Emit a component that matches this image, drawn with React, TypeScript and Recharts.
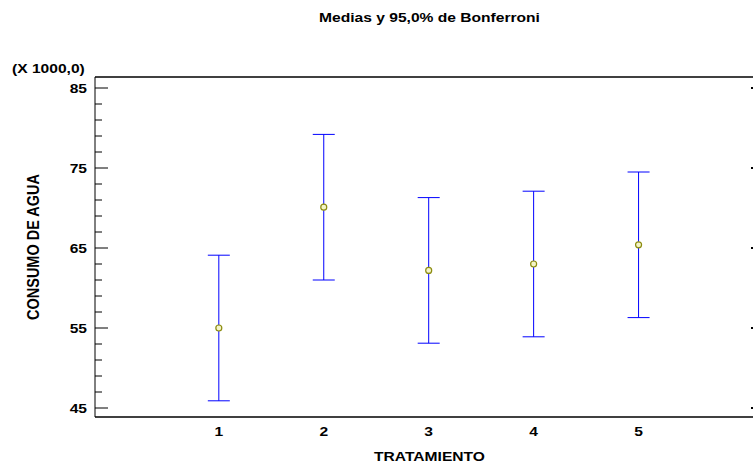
import { ScatterChart, Scatter, XAxis, YAxis, ErrorBar, Label, ReferenceLine } from "recharts";

// medias por tratamiento y semiamplitud del intervalo de Bonferroni (x 1000)
const tratamientos = [1, 2, 3, 4, 5];
const medias = [55.0, 70.1, 62.2, 63.0, 65.4];
const intervalo = [9.1, 9.1, 9.1, 9.1, 9.1];
const marcasY = [45, 47, 49, 51, 53, 55, 57, 59, 61, 63, 65, 67, 69, 71, 73, 75, 77, 79, 81, 83, 85];
const etiquetasY = [45, 55, 65, 75, 85];

const data = tratamientos.map((t, i) => ({ x: t, y: medias[i], err: intervalo[i] }));

const FONT = "'Liberation Sans', Arial, sans-serif";
const yDomain = [43.875, 86.375];
const xDomain = [-0.18, 6.1];

// texto algo ensanchado, como en la salida original
function Txt(props: any) {
  const { x, y, anchor = "middle", size = 13, children, rotate } = props;
  const tf = rotate
    ? `translate(${x},${y}) rotate(-90) scale(1,1.2)`
    : `translate(${x},${y}) scale(1.2,1)`;
  return (
    <text
      transform={tf}
      textAnchor={anchor}
      fontFamily={FONT}
      fontWeight="bold"
      fontSize={size}
      fill="#000"
    >
      {children}
    </text>
  );
}

function YTick(props: any) {
  const { x, y, payload } = props;
  const v = payload.value;
  const mayor = etiquetasY.includes(v);
  return (
    <g>
      <line x1={x + 8} y1={y} x2={x + 8 + (mayor ? 13 : 7)} y2={y} stroke="#000" />
      {mayor && (
        <Txt x={x} y={y + 5} anchor="end">
          {v}
        </Txt>
      )}
    </g>
  );
}

function YTickDer(props: any) {
  const { x, y } = props;
  return <line x1={x - 3} y1={y} x2={x} y2={y} stroke="#000" strokeWidth={2} />;
}

function XTick(props: any) {
  const { x, y, payload } = props;
  return (
    <Txt x={x} y={y + 19}>
      {payload.value}
    </Txt>
  );
}

function Punto(props: any) {
  const { cx, cy } = props;
  return <circle cx={cx} cy={cy} r={3} fill="#f4f4c8" stroke="#8c8c10" strokeWidth={1.2} />;
}

export default function App() {
  return (
    <div style={{ position: "absolute", left: 0, top: 0, background: "#fff" }}>
      <ScatterChart width={760} height={468} margin={{ top: 77, right: 0, bottom: 0, left: 0 }}>
        <XAxis
          dataKey="x"
          type="number"
          domain={xDomain}
          allowDataOverflow
          ticks={tratamientos}
          interval={0}
          height={51}
          tickSize={0}
          tickMargin={0}
          tickLine={false}
          axisLine={{ stroke: "#000", strokeWidth: 1.5 }}
          tick={<XTick />}
        >
          <Label
            content={(p: any) => {
              const vb = p.viewBox;
              return (
                <g>
                  <Txt x={vb.x + vb.width / 2 + 5} y={vb.y + 44}>
                    TRATAMIENTO
                  </Txt>
                  <Txt x={vb.x + vb.width / 2 + 5} y={22}>
                    Medias y 95,0% de Bonferroni
                  </Txt>
                </g>
              );
            }}
          />
        </XAxis>
        <YAxis
          dataKey="y"
          type="number"
          domain={yDomain}
          allowDataOverflow
          ticks={marcasY}
          interval={0}
          width={95}
          tickSize={0}
          tickMargin={8}
          tickLine={false}
          axisLine={{ stroke: "#000" }}
          tick={<YTick />}
        >
          <Label
            content={(p: any) => {
              const vb = p.viewBox;
              return (
                <g>
                  <Txt x={vb.x + 39} y={vb.y + vb.height / 2} size={14.5} rotate>
                    CONSUMO DE AGUA
                  </Txt>
                  <Txt x={12} y={vb.y - 4} anchor="start">
                    (X 1000,0)
                  </Txt>
                </g>
              );
            }}
          />
        </YAxis>
        <YAxis
          yAxisId="der"
          orientation="right"
          type="number"
          domain={yDomain}
          allowDataOverflow
          ticks={etiquetasY}
          interval={0}
          width={6}
          tickSize={0}
          tickMargin={0}
          tickLine={false}
          axisLine={{ stroke: "#000" }}
          tick={<YTickDer />}
        />
        <ReferenceLine y={yDomain[1]} stroke="#000" strokeWidth={1.5} />
        <Scatter data={data} isAnimationActive={false} shape={<Punto />}>
          <ErrorBar dataKey="err" direction="y" width={11} stroke="#0000ff" strokeWidth={1} />
        </Scatter>
      </ScatterChart>
    </div>
  );
}
